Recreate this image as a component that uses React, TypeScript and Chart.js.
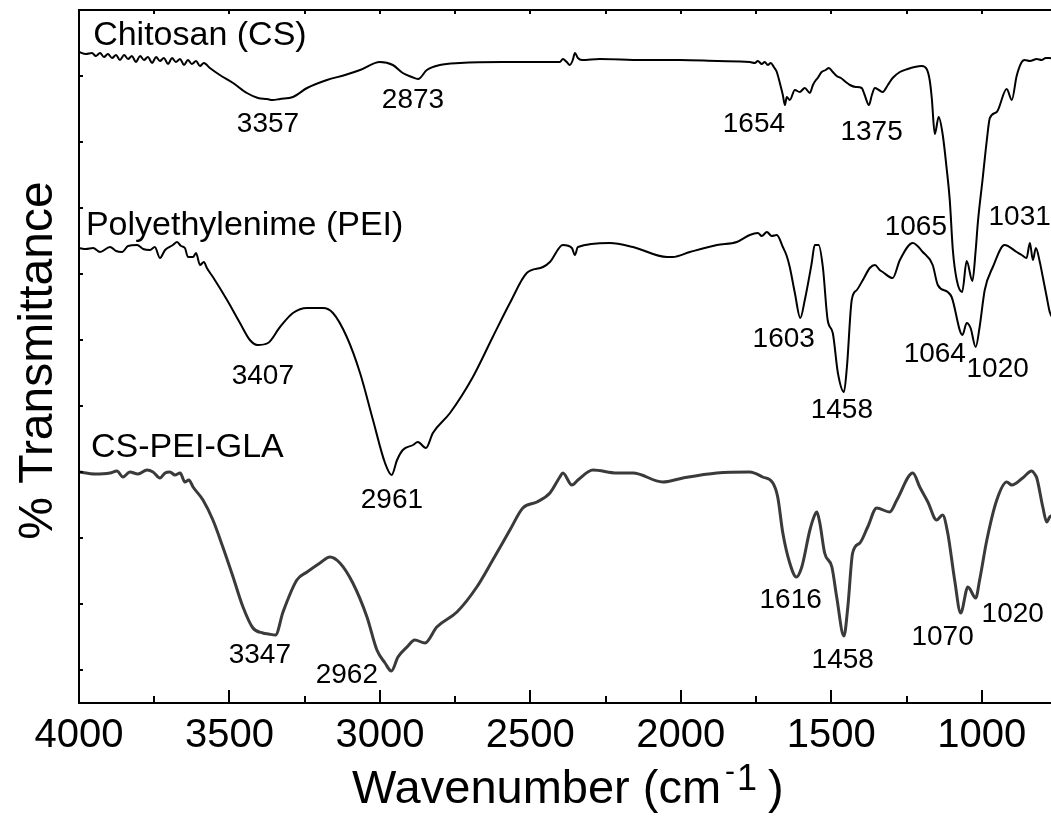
import React, { useEffect, useRef } from "react";
import { Chart, registerables } from "chart.js";

Chart.register(...registerables);

const FONT = '"Liberation Sans", Arial, Helvetica, sans-serif';

// ---- Spectra: wavenumber (cm-1) and offset transmittance (arbitrary units) ----
const chitosanWn = [
  4000, 3977, 3957, 3944, 3930, 3917, 3904, 3890, 3877, 3864, 3850, 3837, 3824, 3811, 3797, 3784,
  3771, 3757, 3744, 3731, 3718, 3704, 3691, 3678, 3664, 3651, 3638, 3625, 3611, 3598, 3585, 3565,
  3532, 3488, 3442, 3405, 3375, 3357, 3332, 3289, 3242, 3176, 3116, 3066, 3000, 2957, 2924, 2894,
  2873, 2844, 2801, 2734, 2591, 2468, 2402, 2392, 2379, 2369, 2359, 2352, 2342, 2329, 2269, 2130,
  2003, 1877, 1771, 1754, 1744, 1731, 1721, 1711, 1701, 1691, 1681, 1671, 1661, 1654, 1648, 1638,
  1621, 1605, 1588, 1571, 1561, 1551, 1545, 1532, 1518, 1508, 1495, 1482, 1468, 1452, 1438, 1419,
  1399, 1389, 1375, 1365, 1355, 1342, 1329, 1312, 1296, 1272, 1246, 1223, 1199, 1183, 1173, 1166,
  1156, 1143, 1130, 1116, 1106, 1096, 1083, 1065, 1050, 1031, 1020, 1013, 997, 983, 973, 950,
  917, 900, 884, 867, 857, 840, 817, 801, 787, 774, 761,
];
const chitosanT = [
  65.1, 64.9, 65.0, 64.7, 65.0, 64.6, 64.9, 64.5, 64.8, 64.3, 64.8, 64.4, 64.7, 64.1, 64.7, 64.3,
  64.6, 64.0, 64.6, 64.2, 64.5, 63.9, 64.5, 64.1, 64.4, 63.8, 64.3, 63.9, 64.2, 63.7, 64.0, 63.5,
  62.8, 62.0, 61.0, 60.5, 60.4, 60.3, 60.4, 60.6, 61.5, 62.3, 62.8, 63.3, 64.1, 63.8, 63.0, 62.6,
  62.4, 63.3, 63.8, 64.0, 64.1, 64.1, 64.1, 64.4, 64.1, 63.8, 64.3, 65.0, 64.5, 64.3, 64.4, 64.3,
  64.3, 64.2, 64.1, 64.0, 64.2, 63.9, 64.1, 63.8, 64.0, 63.6, 63.1, 62.0, 60.8, 59.8, 60.6, 60.3,
  61.3, 61.1, 61.5, 61.0, 61.8, 62.3, 62.5, 63.1, 63.3, 63.5, 63.1, 62.7, 62.5, 62.1, 61.8, 61.6,
  61.5, 60.8, 59.8, 60.8, 61.5, 61.3, 61.1, 61.8, 62.5, 63.1, 63.4, 63.6, 63.7, 63.4, 62.3, 60.5,
  56.9, 58.6, 56.9, 53.3, 50.2, 45.3, 42.3, 41.1, 44.2, 42.2, 45.3, 48.0, 52.4, 56.3, 58.5, 59.1,
  61.4, 60.3, 62.7, 64.1, 64.3, 64.2, 64.4, 64.3, 64.5, 64.5, 64.4,
];

const peiWn = [
  4000, 3977, 3953, 3930, 3897, 3877, 3857, 3837, 3807, 3787, 3764, 3748, 3731, 3714, 3688, 3674,
  3661, 3648, 3638, 3621, 3611, 3598, 3585, 3575, 3555, 3508, 3465, 3432, 3407, 3372, 3332, 3289,
  3242, 3189, 3156, 3110, 3066, 3023, 2983, 2961, 2943, 2924, 2890, 2874, 2847, 2824, 2767, 2691,
  2625, 2568, 2512, 2458, 2435, 2392, 2362, 2352, 2342, 2236, 2159, 2046, 2027, 1970, 1880, 1814,
  1771, 1744, 1731, 1714, 1698, 1681, 1661, 1648, 1638, 1621, 1603, 1588, 1565, 1555, 1542, 1528,
  1512, 1495, 1478, 1458, 1448, 1432, 1415, 1395, 1372, 1355, 1339, 1329, 1296, 1272, 1229, 1196,
  1163, 1146, 1113, 1100, 1064, 1050, 1037, 1020, 1007, 990, 963, 924, 884, 867, 851, 840,
  830, 820, 807, 797, 784, 774, 761,
];
const peiT = [
  45.5, 45.4, 45.5, 45.1, 45.6, 45.2, 45.1, 45.7, 45.8, 45.4, 45.3, 45.6, 44.5, 45.3, 45.8, 46.1,
  45.7, 45.5, 44.6, 44.6, 45.0, 43.8, 44.1, 43.5, 42.6, 40.3, 38.0, 36.3, 35.8, 36.0, 37.6, 39.0,
  39.5, 39.5, 39.0, 36.6, 33.0, 28.3, 24.0, 22.8, 24.3, 25.3, 25.8, 26.1, 25.5, 27.0, 29.0, 32.6,
  36.6, 40.0, 43.0, 43.6, 44.1, 45.8, 45.5, 44.8, 45.6, 46.0, 45.6, 44.6, 44.6, 45.1, 45.8, 46.1,
  46.8, 47.0, 46.7, 47.1, 46.7, 46.8, 45.6, 44.7, 43.6, 41.0, 38.5, 40.3, 44.0, 45.8, 45.8, 43.6,
  38.3, 37.0, 33.0, 31.1, 33.6, 40.3, 41.3, 42.3, 43.5, 43.8, 43.3, 43.1, 42.5, 44.3, 46.0, 45.1,
  43.8, 41.8, 41.1, 40.6, 36.8, 38.0, 37.5, 35.6, 37.6, 41.3, 43.6, 45.8, 45.1, 44.8, 44.5, 46.0,
  44.3, 45.5, 44.1, 42.6, 40.6, 39.1, 38.3,
];

const glaWn = [
  4000, 3947, 3897, 3874, 3854, 3831, 3804, 3774, 3754, 3731, 3714, 3698, 3681, 3664, 3648, 3635,
  3621, 3588, 3555, 3522, 3488, 3455, 3422, 3389, 3370, 3347, 3322, 3276, 3242, 3199, 3166, 3133,
  3090, 3043, 3010, 2983, 2962, 2940, 2910, 2884, 2850, 2811, 2744, 2678, 2625, 2568, 2525, 2478,
  2435, 2402, 2392, 2362, 2342, 2292, 2213, 2159, 2060, 1993, 1880, 1771, 1728, 1694, 1678, 1661,
  1638, 1616, 1598, 1571, 1555, 1548, 1538, 1522, 1498, 1482, 1458, 1445, 1429, 1405, 1379, 1349,
  1306, 1282, 1229, 1206, 1179, 1150, 1130, 1113, 1090, 1070, 1046, 1020, 1007, 983, 950, 917,
  900, 864, 834, 824, 817, 797, 784, 774, 761,
];
const glaT = [
  23.1, 22.9, 23.0, 23.2, 22.6, 23.1, 22.9, 23.3, 23.1, 22.5, 23.0, 23.1, 22.8, 23.0, 22.1, 22.3,
  21.6, 20.3, 18.3, 15.6, 12.6, 9.6, 7.5, 7.0, 6.9, 6.8, 9.1, 12.3, 13.1, 14.0, 14.6, 14.0,
  12.0, 8.6, 5.3, 4.0, 3.2, 4.6, 5.6, 6.3, 6.0, 7.6, 9.1, 11.6, 14.3, 17.3, 19.5, 20.1,
  21.0, 22.6, 23.0, 21.8, 22.3, 23.3, 23.0, 23.0, 22.1, 22.5, 23.0, 23.1, 22.6, 22.0, 20.6, 17.0,
  14.0, 12.6, 13.6, 17.3, 18.8, 19.1, 18.0, 15.0, 13.6, 10.6, 6.7, 9.6, 15.0, 16.0, 17.6, 19.5,
  19.1, 20.3, 23.0, 21.6, 20.1, 18.3, 18.8, 17.0, 12.3, 9.0, 11.6, 10.5, 12.3, 16.3, 20.3, 22.1,
  21.8, 22.5, 23.2, 22.9, 22.5, 19.6, 18.1, 18.6, 18.8,
];

// ---- Band assignments written on the plot ----
const seriesNames = ["Chitosan (CS)", "Polyethylenime (PEI)", "CS-PEI-GLA"];
const chitosanPeaks = [3357, 2873, 1654, 1375, 1065, 1031];
const peiPeaks = [3407, 2961, 1603, 1458, 1064, 1020];
const glaPeaks = [3347, 2962, 1616, 1458, 1070, 1020];

// ---- Axes ----
const xMajorTicks = [4000, 3500, 3000, 2500, 2000, 1500, 1000];
const xMinorTicks = [3750, 3250, 2750, 2250, 1750, 1250, 750];
const yTicks = [3.3, 9.9, 16.5, 23.1, 29.7, 36.3, 42.9, 49.5, 56.1, 62.7, 69.3];
const xTitle = "Wavenumber (cm";
const yTitle = "% Transmittance";

// Text placement, in axis units (wavenumber, transmittance)
const nameAnchors: [number, number][] = [[3953, 65.8], [3977, 46.8], [3960, 24.6]];
const chitosanLabelAt: [number, number][] = [[3372, 57.1], [2890, 59.5], [1757, 57.1], [1366, 56.3], [1219, 46.8], [874, 47.8]];
const peiLabelAt: [number, number][] = [[3389, 31.9], [2960, 19.5], [1658, 35.6], [1465, 28.5], [1156, 34.1], [947, 32.6]];
const glaLabelAt: [number, number][] = [[3399, 4.0], [3110, 2.0], [1635, 9.5], [1462, 3.5], [1130, 5.8], [897, 8.1]];

const toPoints = (wn: number[], t: number[]) => wn.map((w, i) => ({ x: w, y: t[i] }));

const frameAndText = {
  id: "frameAndText",
  afterDatasetsDraw(chart: any) {
    const { ctx, chartArea: a, scales } = chart;
    const x = scales.x;
    const y = scales.y;
    ctx.save();
    ctx.strokeStyle = "#000";
    ctx.fillStyle = "#000";
    ctx.lineWidth = 2;
    ctx.lineCap = "butt";

    // frame
    ctx.beginPath();
    ctx.moveTo(a.left, a.top);
    ctx.lineTo(a.right, a.top);
    ctx.moveTo(a.left, a.top - 1);
    ctx.lineTo(a.left, a.bottom + 1);
    ctx.moveTo(a.left - 1, a.bottom);
    ctx.lineTo(a.right, a.bottom);
    ctx.stroke();

    // inward ticks
    ctx.beginPath();
    for (const v of xMajorTicks) {
      const px = Math.round(x.getPixelForValue(v));
      ctx.moveTo(px, a.bottom);
      ctx.lineTo(px, a.bottom - 13);
      ctx.moveTo(px, a.top);
      ctx.lineTo(px, a.top + 4);
    }
    for (const v of xMinorTicks) {
      const px = Math.round(x.getPixelForValue(v));
      ctx.moveTo(px, a.bottom);
      ctx.lineTo(px, a.bottom - 7);
      ctx.moveTo(px, a.top);
      ctx.lineTo(px, a.top + 4);
    }
    for (const v of yTicks) {
      const py = Math.round(y.getPixelForValue(v));
      ctx.moveTo(a.left, py);
      ctx.lineTo(a.left + 4, py);
    }
    ctx.stroke();

    // tick labels
    ctx.textBaseline = "alphabetic";
    ctx.textAlign = "center";
    ctx.font = `40px ${FONT}`;
    for (const v of xMajorTicks) {
      ctx.fillText(String(v), x.getPixelForValue(v), a.bottom + 44);
    }

    // x axis title with superscript exponent
    ctx.textAlign = "left";
    ctx.font = `47px ${FONT}`;
    const tx = 352;
    const ty = a.bottom + 100;
    ctx.fillText(xTitle, tx, ty);
    const w = ctx.measureText(xTitle).width;
    ctx.font = `30px ${FONT}`;
    ctx.fillText("-", tx + w + 4, ty - 22);
    ctx.font = `36px ${FONT}`;
    ctx.fillText("1", tx + w + 16, ty - 13);
    ctx.font = `47px ${FONT}`;
    ctx.fillText(")", tx + w + 47, ty);

    // y axis title
    ctx.save();
    ctx.translate(52, (a.top + a.bottom) / 2 + 4);
    ctx.rotate(-Math.PI / 2);
    ctx.textAlign = "center";
    ctx.font = `48px ${FONT}`;
    ctx.fillText(yTitle, 0, 0);
    ctx.restore();

    // series names
    ctx.textAlign = "left";
    ctx.font = `34px ${FONT}`;
    seriesNames.forEach((name, i) => {
      const [wn, t] = nameAnchors[i];
      ctx.fillText(name, x.getPixelForValue(wn), y.getPixelForValue(t));
    });

    // band labels
    ctx.textAlign = "center";
    ctx.font = `28px ${FONT}`;
    const groups: [number[], [number, number][]][] = [
      [chitosanPeaks, chitosanLabelAt],
      [peiPeaks, peiLabelAt],
      [glaPeaks, glaLabelAt],
    ];
    for (const [peaks, at] of groups) {
      peaks.forEach((p, i) => {
        const [wn, t] = at[i];
        ctx.fillText(String(p), x.getPixelForValue(wn), y.getPixelForValue(t));
      });
    }
    ctx.restore();
  },
};

export default function App() {
  const canvasRef = useRef<HTMLCanvasElement | null>(null);

  useEffect(() => {
    const canvas = canvasRef.current;
    if (!canvas) return;
    const line = (data: { x: number; y: number }[], color: string, width: number) => ({
      data,
      borderColor: color,
      borderWidth: width,
      pointRadius: 0,
      fill: false,
      cubicInterpolationMode: "monotone" as const,
      borderJoinStyle: "round" as const,
    });
    const chart = new Chart(canvas, {
      type: "line",
      data: {
        datasets: [
          line(toPoints(chitosanWn, chitosanT), "#000000", 2),
          line(toPoints(peiWn, peiT), "#000000", 2),
          line(toPoints(glaWn, glaT), "#3a3a3a", 3),
        ],
      },
      options: {
        animation: false,
        responsive: false,
        maintainAspectRatio: false,
        layout: { padding: { top: 10, right: 8, left: 0, bottom: 0 } },
        plugins: { legend: { display: false }, tooltip: { enabled: false }, title: { display: false } },
        scales: {
          x: {
            type: "linear",
            reverse: true,
            min: 700,
            max: 4000,
            grid: { display: false },
            border: { display: false },
            ticks: { display: false },
            afterFit: (s: any) => {
              s.height = 131;
            },
          },
          y: {
            type: "linear",
            min: 0,
            max: 69.3,
            grid: { display: false },
            border: { display: false },
            ticks: { display: false },
            afterFit: (s: any) => {
              s.width = 79;
            },
          },
        },
      },
      plugins: [frameAndText],
    });
    return () => chart.destroy();
  }, []);

  return (
    <div
      style={{
        position: "fixed",
        left: 0,
        top: 0,
        width: 1051,
        height: 834,
        overflow: "hidden",
        background: "#fff",
      }}
    >
      <canvas ref={canvasRef} width={1080} height={834} style={{ display: "block" }} />
    </div>
  );
}
